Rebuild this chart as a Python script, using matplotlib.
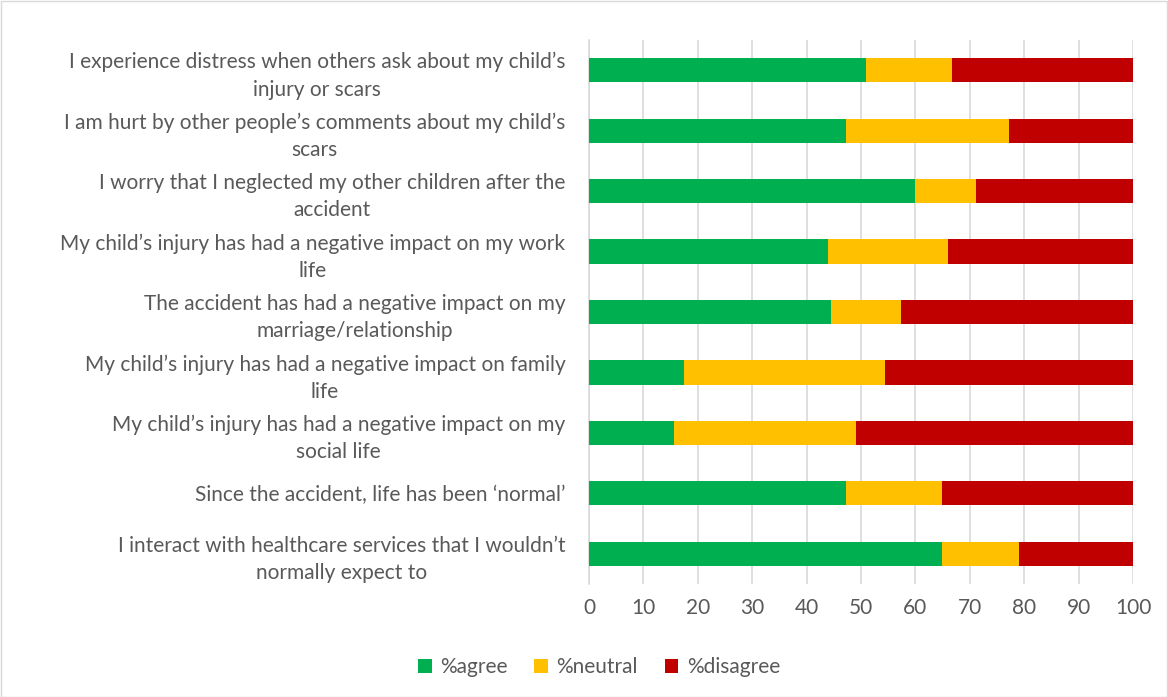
import matplotlib
matplotlib.use("Agg")
import matplotlib.pyplot as plt
from matplotlib.patches import Rectangle
import numpy as np

statements = [
    "I experience distress when others ask about my child\u2019s\ninjury or scars",
    "I am hurt by other people\u2019s comments about my child\u2019s\nscars",
    "I worry that I neglected my other children after the\naccident",
    "My child\u2019s injury has had a negative impact on my work\nlife",
    "The accident has had a negative impact on my\nmarriage/relationship",
    "My child\u2019s injury has had a negative impact on family\nlife",
    "My child\u2019s injury has had a negative impact on my\nsocial life",
    "Since the accident, life has been \u2018normal\u2019",
    "I interact with healthcare services that I wouldn\u2019t\nnormally expect to",
]
agree = [50.9, 47.3, 59.9, 43.9, 44.4, 17.4, 15.7, 47.3, 64.8]
neutral = [15.8, 29.9, 11.2, 22.1, 12.9, 37.0, 33.4, 17.6, 14.2]
disagree = [round(100 - a - n, 1) for a, n in zip(agree, neutral)]

series_names = ["%agree", "%neutral", "%disagree"]
colors = ["#00B050", "#FFC000", "#C00000"]
xticks = [0, 10, 20, 30, 40, 50, 60, 70, 80, 90, 100]

plt.rcParams["font.family"] = ["Lato", "DejaVu Sans"]
text_color = "#595959"

W, H = 1168, 697
fig = plt.figure(figsize=(W / 100, H / 100), dpi=100)
ax = fig.add_axes([589 / W, 1 - 584 / H, (1133 - 589) / W, (584 - 40) / H])

y = np.arange(len(statements))
left = np.zeros(len(statements))
for vals, name, col in zip([agree, neutral, disagree], series_names, colors):
    ax.barh(y, vals, left=left, height=0.4, color=col, label=name, zorder=3)
    left = left + np.array(vals)

ax.set_xlim(0, 100)
ax.set_ylim(len(statements) - 0.5, -0.5)
ax.set_xticks(xticks)
ax.set_xticklabels([str(t) for t in xticks])
ax.set_yticks(y)
ax.set_yticklabels(statements, multialignment="center")
ax.tick_params(axis="x", length=0, pad=10, labelsize=15, labelcolor=text_color)
ax.tick_params(axis="y", length=0, pad=17, labelsize=15, labelcolor=text_color)
for lbl in ax.get_yticklabels():
    lbl.set_linespacing(1.45)

ax.grid(axis="x", color="#D9D9D9", linewidth=1.2, zorder=0)
for s in ["top", "right", "bottom"]:
    ax.spines[s].set_visible(False)
ax.spines["left"].set_color("#D9D9D9")
ax.spines["left"].set_linewidth(1.2)

fig.legend(loc="center", bbox_to_anchor=(599 / W, 1 - 667 / H), ncol=3,
           frameon=False, fontsize=15, labelcolor=text_color,
           handlelength=0.65, handleheight=0.65, handletextpad=0.4,
           columnspacing=1.3)

fig.patches.append(Rectangle((0.5 / W, 0.5 / H), 1 - 1.5 / W, 1 - 1.5 / H,
                             transform=fig.transFigure, fill=False,
                             edgecolor="#D9D9D9", linewidth=1))

fig.savefig("out.png", dpi=100)
